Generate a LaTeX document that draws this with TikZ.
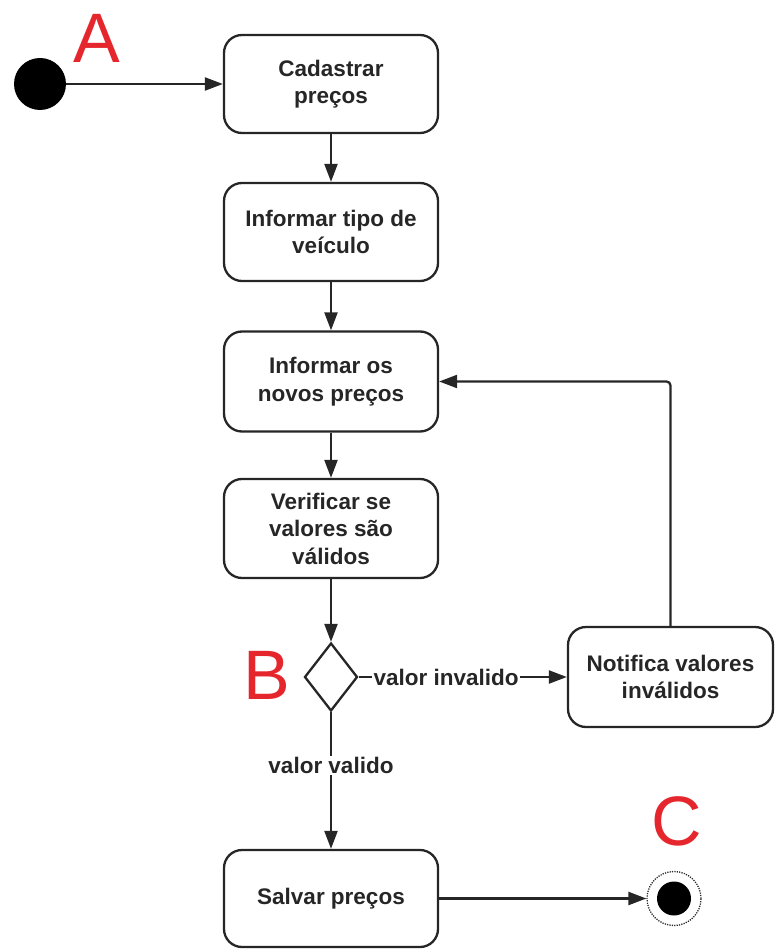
\documentclass[tikz,border=0pt]{standalone}
\usepackage{fontspec}
\setmainfont{Liberation Sans}
\usetikzlibrary{arrows.meta,shapes.geometric}
\definecolor{ink}{HTML}{262626}
\definecolor{mark}{HTML}{E5262C}
\tikzset{
  activity/.style={draw=ink, line width=2.3pt, rounded corners=18pt, fill=white,
    align=center, text=ink, inner sep=0pt,
    font=\fontsize{22.5}{27.5}\selectfont\bfseries},
  flow/.style={draw=ink, line width=2.3pt, -{Triangle[length=18pt,width=13pt]}},
  guard/.style={fill=white, text=ink, inner sep=1.5pt,
    font=\fontsize{22.5}{27.5}\selectfont\bfseries},
  letter/.style={text=mark, inner sep=0pt, font=\fontsize{70}{70}\selectfont},
}
\begin{document}
\begin{tikzpicture}[x=1pt,y=-1pt]
\useasboundingbox (0,0) rectangle (774,949);

% initial and final states
\node[circle, fill=black, minimum size=52pt, inner sep=0pt] (start) at (40,84) {};
\node[circle, draw=ink, dash pattern=on 1.2pt off 1.2pt, line width=1.3pt,
      minimum size=54pt, inner sep=0pt] (final) at (674,898.5) {};
\fill[black] (final.center) circle (17pt);

% actions
\node[activity, minimum width=214pt, minimum height=98pt] (cad) at (331,84) {Cadastrar\\preços};
\node[activity, minimum width=214pt, minimum height=98pt] (tipo) at (331,232) {Informar tipo de\\veículo};
\node[activity, minimum width=214pt, minimum height=100pt] (novos) at (331,381.5) {Informar os\\novos preços};
\node[activity, minimum width=214pt, minimum height=99pt] (verif) at (331,528.5) {Verificar se\\valores são\\válidos};
\node[activity, minimum width=205pt, minimum height=100pt] (notif) at (670.5,677) {Notifica valores\\inválidos};
\node[activity, minimum width=214pt, minimum height=97pt] (salvar) at (331,898.5) {Salvar preços};

% decision
\node[diamond, draw=ink, line width=2.3pt, fill=white, inner sep=0pt,
      minimum width=53pt, minimum height=68pt] (dec) at (331,677) {};

% transitions
\draw[flow] (start) -- (cad.west);
\draw[flow] (cad) -- (tipo);
\draw[flow] (tipo) -- (novos);
\draw[flow] (novos) -- (verif);
\draw[flow] (verif) -- (dec.north);
\draw[flow] (dec.east) -- node[guard, pos=0.42] {valor invalido} (notif.west);
\draw[flow] (dec.south) -- node[guard, pos=0.39] {valor valido} (salvar.north);
\draw[flow, rounded corners=4pt] (notif.north) |- (novos.east);
\draw[flow] (salvar.east) -- (final.west);

% markers
\node[letter] (la) at (97,38) {A};
\node[letter] (lb) at (267,675) {B};
\node[letter] (lc) at (677,821) {C};
\end{tikzpicture}
\end{document}
